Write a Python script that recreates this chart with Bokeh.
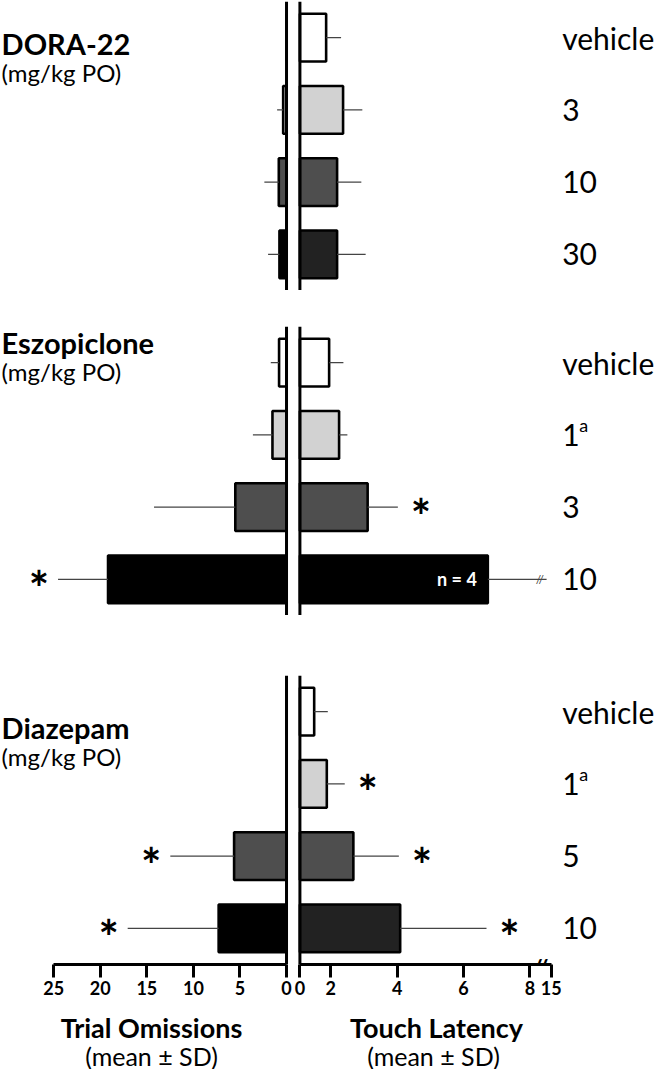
from bokeh.plotting import figure
from bokeh.layouts import column, row
from bokeh.models import Range1d, FactorRange, Span, FixedTicker, Label, ColumnDataSource
from bokeh.core.properties import value
from bokeh.embed import file_html
from bokeh.resources import INLINE

# ---------------- data ----------------
GROUPS = ["DORA-22", "Eszopiclone", "Diazepam"]
UNITS = "(mg/kg PO)"

dora_doses = ["vehicle", "3", "10", "30"]
dora_notes = ["", "", "", ""]
dora_omit = [0.0, 0.36, 0.83, 0.76]
dora_omit_sd = [0.0, 0.65, 1.55, 1.22]
dora_lat = [1.86, 2.37, 2.19, 2.19]
dora_lat_sd = [0.45, 0.58, 0.73, 0.86]
dora_omit_sig = [False, False, False, False]
dora_lat_sig = [False, False, False, False]
dora_n_note = ["", "", "", ""]
dora_lat_broken = [False, False, False, False]

esz_doses = ["vehicle", "1", "3", "10"]
esz_notes = ["", "a", "", ""]
esz_omit = [0.80, 1.51, 5.50, 19.17]
esz_omit_sd = [0.89, 2.10, 8.73, 5.37]
esz_lat = [1.95, 2.25, 3.11, 6.73]
esz_lat_sd = [0.43, 0.25, 0.91, 1.77]
esz_omit_sig = [False, False, False, True]
esz_lat_sig = [False, False, True, False]
esz_n_note = ["", "", "", "n = 4"]
esz_lat_broken = [False, False, False, True]

diaz_doses = ["vehicle", "1", "5", "10"]
diaz_notes = ["", "a", "", ""]
diaz_omit = [0.0, 0.0, 5.63, 7.29]
diaz_omit_sd = [0.0, 0.0, 6.85, 9.77]
diaz_lat = [1.50, 1.88, 2.68, 4.09]
diaz_lat_sd = [0.41, 0.54, 1.37, 2.60]
diaz_omit_sig = [False, False, True, True]
diaz_lat_sig = [False, True, True, True]
diaz_n_note = ["", "", "", ""]
diaz_lat_broken = [False, False, False, False]

OMIT_TICKS = [0, 5, 10, 15, 20, 25]
LAT_TICKS = [1.07, 2, 4, 6, 8, 8.64]
LAT_TICK_LABELS = ["0", "2", "4", "6", "8", "15"]

# ---------------- styles / layout ----------------
FONT = "Lato"
LEFT_FILLS = ["#ffffff", "#d2d2d2", "#4e4e4e", "#000000"]
RIGHT_FILLS = [
    ["#ffffff", "#d2d2d2", "#4e4e4e", "#222222"],
    ["#ffffff", "#d2d2d2", "#4e4e4e", "#000000"],
    ["#ffffff", "#d2d2d2", "#4e4e4e", "#222222"],
]
ERR_COLOR = "#444444"
LEFT_W, RIGHT_W = 293, 361
FRAME_H = 289
TOP_BORDERS = [1, 36, 60]
AXIS_H = 44
L_RANGE = (30.72, -0.75)
R_RANGE = (0.877, 11.75)
R_BASE = 1.07
LABEL_X = 8.97
TITLE_X = 30.6
TITLE_DY = [6, -20, 16]
SUB_GAP = 29
BAR_H = 0.66
BREAK_X = 8.30
STAR_SIZE = "48px"
STAR_DY = 8

groups = [
    dict(doses=dora_doses, notes=dora_notes, omit=dora_omit, omit_sd=dora_omit_sd, lat=dora_lat,
         lat_sd=dora_lat_sd, omit_sig=dora_omit_sig, lat_sig=dora_lat_sig, n_note=dora_n_note,
         broken=dora_lat_broken),
    dict(doses=esz_doses, notes=esz_notes, omit=esz_omit, omit_sd=esz_omit_sd, lat=esz_lat,
         lat_sd=esz_lat_sd, omit_sig=esz_omit_sig, lat_sig=esz_lat_sig, n_note=esz_n_note,
         broken=esz_lat_broken),
    dict(doses=diaz_doses, notes=diaz_notes, omit=diaz_omit, omit_sd=diaz_omit_sd, lat=diaz_lat,
         lat_sd=diaz_lat_sd, omit_sig=diaz_omit_sig, lat_sig=diaz_lat_sig, n_note=diaz_n_note,
         broken=diaz_lat_broken),
]


def base_fig(width, x_range, doses, gi, bottom):
    h = TOP_BORDERS[gi] + FRAME_H + (AXIS_H if bottom else 0)
    f = figure(width=width, height=h, x_range=Range1d(*x_range),
               y_range=FactorRange(factors=list(reversed(doses))),
               output_backend="svg", toolbar_location=None,
               x_axis_location="below" if bottom else None, y_axis_location=None,
               min_border_left=0, min_border_right=0,
               min_border_top=TOP_BORDERS[gi], min_border_bottom=AXIS_H if bottom else 0,
               outline_line_color=None, background_fill_color="white",
               border_fill_color="white")
    f.grid.visible = False
    if bottom:
        ax = f.xaxis[0]
        ax.axis_line_width = 3
        ax.axis_line_color = "black"
        ax.major_tick_line_width = 3
        ax.major_tick_line_color = "black"
        ax.major_tick_out = 13
        ax.major_tick_in = 0
        ax.minor_tick_line_color = None
        ax.major_label_text_font = FONT
        ax.major_label_text_font_style = "bold"
        ax.major_label_text_font_size = "18px"
        ax.major_label_text_color = "black"
        ax.major_label_standoff = 3
    return f


rows = []
for gi, g in enumerate(groups):
    bottom = gi == len(groups) - 1
    n = len(g["doses"])
    src = ColumnDataSource(dict(
        dose=g["doses"], omit=g["omit"],
        lat=g["lat"],
        lat_hi=[v + s for v, s in zip(g["lat"], g["lat_sd"])],
        lfill=LEFT_FILLS, rfill=RIGHT_FILLS[gi],
        note=g["notes"], n_note=g["n_note"],
    ))

    # ---- left panel: trial omissions ----
    L = base_fig(LEFT_W, L_RANGE, g["doses"], gi, bottom)
    L.hbar(y="dose", left=0, right="omit", height=BAR_H, fill_color="lfill",
           line_color="black", line_width=2.6, source=src)
    idx = [i for i in range(n) if g["omit_sd"][i] > 0]
    L.segment(x0=[g["omit"][i] for i in idx], y0=[g["doses"][i] for i in idx],
              x1=[g["omit"][i] + g["omit_sd"][i] for i in idx], y1=[g["doses"][i] for i in idx],
              line_color=ERR_COLOR, line_width=1.3)
    sidx = [i for i in range(n) if g["omit_sig"][i]]
    L.text(x=[g["omit"][i] + g["omit_sd"][i] for i in sidx], y=[g["doses"][i] for i in sidx],
           text=value("*"), x_offset=-19, y_offset=STAR_DY, text_align="center",
           text_baseline="middle", text_font=value(FONT), text_font_style="bold",
           text_font_size=STAR_SIZE, text_line_height=1.0, text_color="black")
    L.add_layout(Span(location=0, dimension="height", line_color="black", line_width=3))
    L.text(x=[TITLE_X], y=[g["doses"][0]], text=[GROUPS[gi]], y_offset=TITLE_DY[gi],
           text_align="left", text_baseline="middle", text_font=value(FONT),
           text_font_style="bold", text_font_size="29px", text_color="black")
    L.text(x=[TITLE_X], y=[g["doses"][0]], text=[UNITS], y_offset=TITLE_DY[gi] + SUB_GAP,
           text_align="left", text_baseline="middle", text_font=value(FONT),
           text_font_size="24px", text_color="black")
    if bottom:
        ax = L.xaxis[0]
        ax.ticker = FixedTicker(ticks=OMIT_TICKS)
        ax.bounds = (0, 25)

    # ---- right panel: touch latency ----
    R = base_fig(RIGHT_W, R_RANGE, g["doses"], gi, bottom)
    R.hbar(y="dose", left=R_BASE, right="lat", height=BAR_H, fill_color="rfill",
           line_color="black", line_width=2.6, source=src)
    R.segment(x0="lat", y0="dose", x1="lat_hi", y1="dose", line_color=ERR_COLOR,
              line_width=1.3, source=src)
    bidx = [i for i in range(n) if g["broken"][i]]
    R.text(x=[BREAK_X] * len(bidx), y=[g["doses"][i] for i in bidx], text=value("//"),
           text_align="center", text_baseline="middle", text_font=value(FONT),
           text_font_size="12px", text_color=ERR_COLOR)
    sidx = [i for i in range(n) if g["lat_sig"][i]]
    R.text(x=[g["lat"][i] + g["lat_sd"][i] for i in sidx], y=[g["doses"][i] for i in sidx],
           text=value("*"), x_offset=23, y_offset=STAR_DY, text_align="center",
           text_baseline="middle", text_font=value(FONT), text_font_style="bold",
           text_font_size=STAR_SIZE, text_line_height=1.0, text_color="black")
    R.text(x="lat", y="dose", text="n_note", x_offset=-11, text_align="right",
           text_baseline="middle", text_font=value(FONT), text_font_style="bold",
           text_font_size="18px", text_color="white", source=src)
    R.add_layout(Span(location=R_BASE, dimension="height", line_color="black", line_width=3))
    R.text(x=LABEL_X, y="dose", text="dose", text_align="left", text_baseline="middle",
           text_font=value(FONT), text_font_size="30px", text_color="black", source=src)
    R.text(x=LABEL_X, y="dose", text="note", x_offset=17, y_offset=-10, text_align="left",
           text_baseline="middle", text_font=value(FONT), text_font_size="18px",
           text_color="black", source=src)
    if bottom:
        ax = R.xaxis[0]
        ax.ticker = FixedTicker(ticks=LAT_TICKS)
        ax.bounds = (LAT_TICKS[0], LAT_TICKS[-1])
        ax.major_label_overrides = {float(t): s for t, s in zip(LAT_TICKS, LAT_TICK_LABELS)}
        R.add_layout(Label(x=BREAK_X, y=-4, y_units="screen", text="//",
                           text_align="center", text_baseline="middle",
                           text_font=FONT, text_font_style="bold",
                           text_font_size="24px", text_color="black"))
    rows.append(row(L, R))

# ---- bottom axis titles ----
TXT_H = 61
T = figure(width=LEFT_W + RIGHT_W, height=TXT_H, x_range=Range1d(0, LEFT_W + RIGHT_W),
           y_range=Range1d(TXT_H, 0), output_backend="svg", toolbar_location=None,
           x_axis_location=None, y_axis_location=None, min_border=0,
           outline_line_color=None)
T.grid.visible = False
AX_TITLES = ["Trial Omissions", "Touch Latency"]
AX_SUB = "(mean ± SD)"
T.text(x=[151, 436], y=[19, 19], text=AX_TITLES, text_align="center", text_baseline="middle",
       text_font=value(FONT), text_font_style="bold", text_font_size="27px", text_color="black")
T.text(x=[151, 433], y=[47, 47], text=[AX_SUB, AX_SUB], text_align="center",
       text_baseline="middle", text_font=value(FONT), text_font_size="25px", text_color="black")

layout = column(*rows, T)
open("out.html", "w").write(file_html(layout, INLINE))
